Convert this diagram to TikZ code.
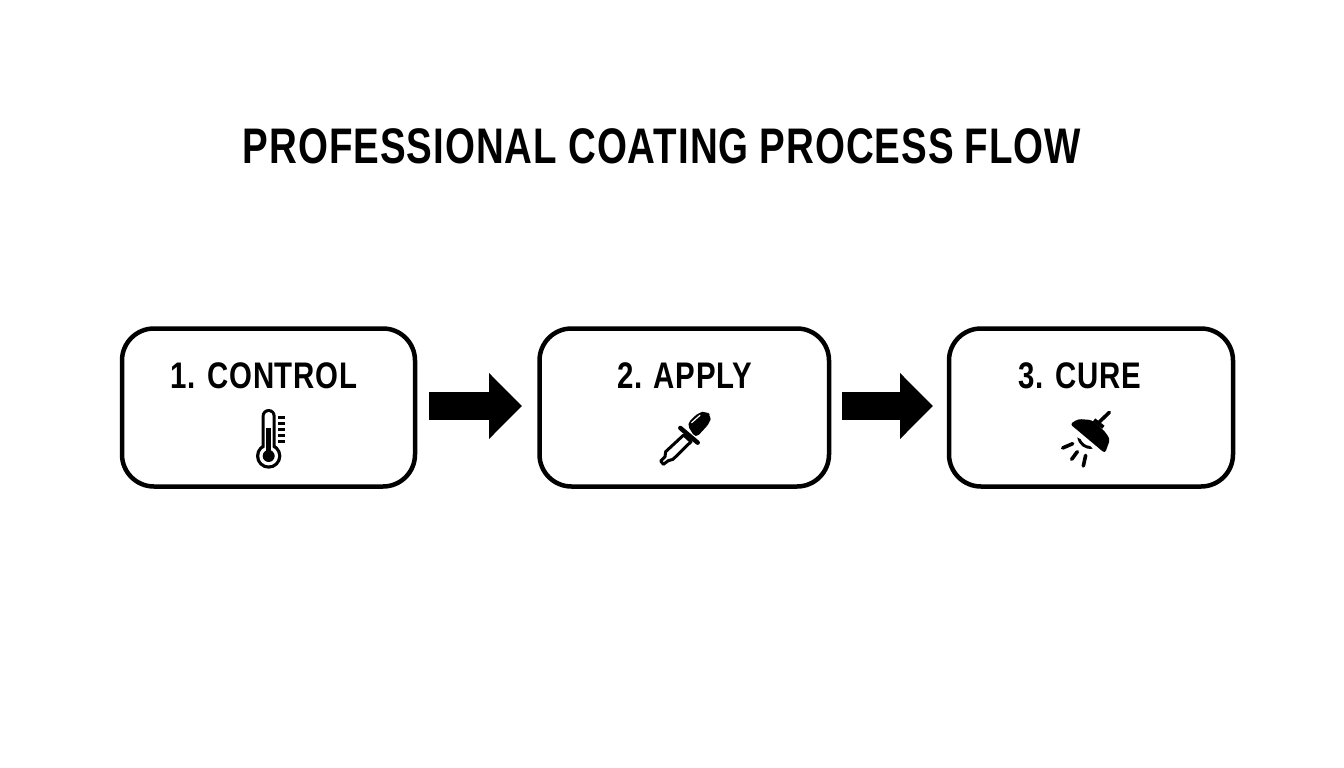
\documentclass[tikz,border=0pt]{standalone}
\usepackage{fontspec}
\setmainfont{Liberation Sans}
\newfontfamily\spacedbold[LetterSpace=2.5,WordSpace=0.95,BoldFont={Liberation Sans Bold}]{Liberation Sans Bold}
\usetikzlibrary{arrows.meta}
\tikzset{
  stage/.style={draw=black,line width=4.5pt,rounded corners=32pt,fill=white,minimum height=158pt,outer sep=0pt},
  flow/.style={line width=28pt,draw=black,-{Triangle[length=33pt,width=64pt,fill=black]}},
  caption/.style={font=\spacedbold\fontsize{37}{37}\selectfont,inner sep=0pt,xscale=0.795,text=black},
  heading/.style={font=\spacedbold\fontsize{50}{50}\selectfont,inner sep=0pt,xscale=0.77,text=black},
  tick/.style={line width=3pt,line cap=butt},
  ray/.style={line width=3.6pt,line cap=round}
}
\begin{document}
\begin{tikzpicture}[x=1pt,y=-1pt]
\useasboundingbox (0,0) rectangle (1344,768);
\fill[white] (0,0) rectangle (1344,768);
\node[heading] (title) at (662,146) {PROFESSIONAL COATING PROCESS FLOW};
\node[stage,minimum width=293pt] (b1) at (268.5,407.5) {};
\node[stage,minimum width=289.5pt] (b2) at (684.25,407.5) {};
\node[stage,minimum width=284pt] (b3) at (1091,407.5) {};
\node[caption] (l1) at (264,376) {1. CONTROL};
\node[caption] (l2) at (684.5,376) {2. APPLY};
\node[caption] (l3) at (1080,376) {3. CURE};
\draw[flow,shorten <=14pt,shorten >=17.5pt] ([yshift=1.5pt]b1.east) -- ([yshift=1.5pt]b2.west);
\draw[flow,shorten <=13pt,shorten >=16pt] ([yshift=1.5pt]b2.east) -- ([yshift=1.5pt]b3.west);
% thermometer
\begin{scope}[shift={(230,395)},x=0.3333pt,y=-0.3333pt]
\fill[black,rounded corners=6.9pt] (95,42) rectangle (137,175);
\fill[black] (116,183) circle[radius=12.7pt];
\fill[white,rounded corners=3.9pt] (104,51) rectangle (128,175);
\fill[white] (116,183) circle[radius=9.4pt];
\fill[black] (108,100) rectangle (124,183);
\fill[black] (116,183) circle[radius=6pt];
\draw[tick] (145,68) -- (165,68) (145,86) -- (165,86) (145,104) -- (165,104) (145,122) -- (165,122) (145,140) -- (165,140);
\end{scope}
% dropper
\begin{scope}[shift={(645,400)},x=0.3333pt,y=-0.3333pt]
\fill[black,rounded corners=5pt] (125,72) -- (160,38) -- (185,33) -- (198,48) -- (195,68) -- (152,115) -- cycle;
\draw[white,line width=1.2pt,line cap=round] (140,68) -- (165,46);
\draw[black,line width=3pt,line join=round,fill=white] (116,105) -- (62,155) -- (60,170) -- (47,183) -- (55,193) -- (70,182) -- (84,178) -- (138,125) -- cycle;
\draw[black,line width=4.5pt,line cap=round] (106,84) -- (158,128);
\end{scope}
% lamp
\begin{scope}[shift={(1050,400)},x=0.3333pt,y=-0.3333pt]
\draw[black,line width=3.6pt,line cap=round] (148,66) -- (178,37);
\draw[black,line width=4pt] (132,60) -- (160,82);
\fill[black,rounded corners=3pt] (60,72) -- (85,57) -- (125,60) -- (165,95) -- (180,118) -- (165,160) -- cycle;
\fill[black] (82,112) .. controls (85,135) and (105,150) .. (128,146) -- (120,138) .. controls (105,138) and (95,125) .. (92,118) -- cycle;
\draw[ray] (38,144) -- (68,131);
\draw[ray] (65,178) -- (82,155);
\draw[ray] (100,198) -- (107,166);
\end{scope}
\end{tikzpicture}
\end{document}
